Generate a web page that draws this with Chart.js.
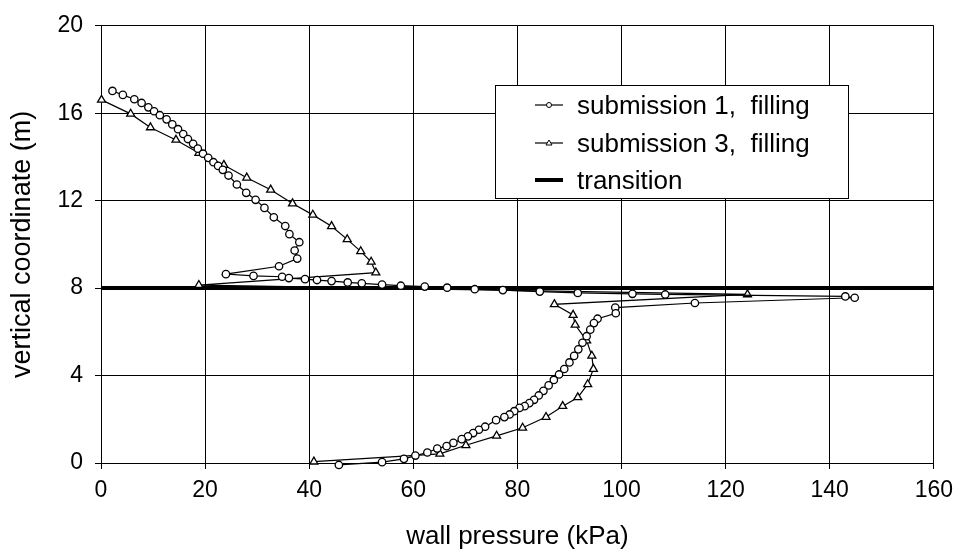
<!DOCTYPE html>
<html>
<head>
<meta charset="utf-8">
<script src="https://cdn.jsdelivr.net/npm/chart.js@4.4.1/dist/chart.umd.min.js"></script>
<style>
  html, body { margin: 0; padding: 0; background: #fff; }
  #wrap { width: 961px; height: 557px; }
</style>
</head>
<body>
<div id="wrap"><canvas id="c" width="961" height="557"></canvas></div>
<script>
// ---- data ----
const sub1X = [2.2,4.2,6.4,7.8,9.1,10.2,11.3,12.6,13.7,14.8,15.8,16.7,17.7,18.6,19.6,20.6,21.6,22.5,23.4,24.5,26.1,27.9,29.7,31.4,33.2,35.4,36.2,38.1,37.2,37.7,34.2,24.0,29.3,34.8,36.1,39.2,41.5,44.3,47.4,50.1,54.0,57.6,62.2,66.5,71.8,77.2,84.3,91.6,102.1,108.4,143.0,144.8,114.1,98.8,98.9,95.4,94.7,94.0,93.3,92.5,91.7,90.9,90.0,89.0,88.0,87.0,86.0,85.0,84.1,83.2,82.3,81.4,80.4,79.4,78.5,77.5,75.9,73.8,72.6,71.5,70.5,69.3,67.7,66.4,64.6,62.7,60.4,58.2,54.0,45.7];
const sub1Y = [17.02,16.84,16.64,16.47,16.27,16.09,15.91,15.72,15.49,15.27,15.05,14.82,14.6,14.38,14.15,13.96,13.76,13.59,13.41,13.15,12.74,12.36,12.04,11.67,11.24,10.84,10.47,10.1,9.72,9.35,9.0,8.64,8.56,8.52,8.46,8.41,8.37,8.32,8.26,8.22,8.16,8.11,8.07,8.02,7.95,7.91,7.84,7.78,7.74,7.71,7.62,7.56,7.32,7.11,6.85,6.6,6.4,6.1,5.8,5.5,5.2,4.9,4.6,4.3,4.05,3.8,3.55,3.3,3.09,2.89,2.74,2.6,2.52,2.37,2.22,2.1,1.96,1.66,1.52,1.37,1.22,1.09,0.92,0.77,0.66,0.48,0.34,0.19,0.04,-0.09];

const sub3X = [0.1,5.7,9.5,14.4,18.8,23.6,28.0,32.6,36.8,40.7,44.3,47.3,49.9,51.9,52.8,18.8,124.2,87.1,90.7,91.1,93.3,94.3,94.6,93.5,91.6,88.7,85.5,81.0,76.0,70.1,65.1,40.9];
const sub3Y = [16.61,15.97,15.35,14.78,14.18,13.63,13.05,12.5,11.87,11.35,10.83,10.23,9.68,9.2,8.71,8.14,7.71,7.26,6.77,6.32,5.6,4.9,4.3,3.6,3.0,2.6,2.1,1.61,1.24,0.81,0.42,0.06];

const transitionX = [0, 160];
const transitionY = [8, 8];

const xTicks = [0,20,40,60,80,100,120,140,160];
const yTicks = [0,4,8,12,16,20];

const seriesLabels = ['submission 1,  filling', 'submission 3,  filling', 'transition'];
const xTitle = 'wall pressure (kPa)';
const yTitle = 'vertical coordinate (m)';

// ---- build ----
const FONT = '"Liberation Sans", Arial, Helvetica, sans-serif';
const pts = (xs, ys) => xs.map((x, i) => ({x: x, y: ys[i]}));

const legendPlugin = {
  id: 'boxLegend',
  afterDraw(chart) {
    const ctx = chart.ctx;
    const bx = 495, by = 85, bw = 353, bh = 113;
    ctx.save();
    ctx.fillStyle = '#fff';
    ctx.fillRect(bx, by, bw, bh);
    ctx.strokeStyle = '#000';
    ctx.lineWidth = 1;
    ctx.strokeRect(bx + 0.5, by + 0.5, bw, bh);
    const rows = [105, 143, 180];
    const base = [114, 152, 189];
    chart.data.datasets.forEach((ds, i) => {
      const y = rows[i];
      ctx.strokeStyle = '#000';
      ctx.lineWidth = i === 2 ? 4 : 1.2;
      ctx.beginPath();
      ctx.moveTo(535, y);
      ctx.lineTo(563, y);
      ctx.stroke();
      ctx.lineWidth = 1;
      ctx.fillStyle = '#fff';
      if (i === 0) {
        ctx.beginPath();
        ctx.arc(549, y, 2.5, 0, Math.PI * 2);
        ctx.fill(); ctx.stroke();
      } else if (i === 1) {
        ctx.beginPath();
        ctx.moveTo(549, y - 3);
        ctx.lineTo(552, y + 2);
        ctx.lineTo(546, y + 2);
        ctx.closePath();
        ctx.fill(); ctx.stroke();
      }
      ctx.fillStyle = '#000';
      ctx.font = '26px ' + FONT;
      ctx.textBaseline = 'alphabetic';
      ctx.textAlign = 'left';
      ctx.fillText(ds.label, 577, base[i]);
    });
    ctx.restore();
  }
};

new Chart(document.getElementById('c'), {
  type: 'scatter',
  data: {
    datasets: [
      {
        label: seriesLabels[0],
        data: pts(sub1X, sub1Y),
        showLine: true,
        clip: false,
        borderColor: '#000',
        borderWidth: 1.2,
        pointStyle: 'circle',
        pointRadius: 3.7,
        pointBorderWidth: 1.3,
        pointBackgroundColor: '#fff',
        pointBorderColor: '#000',
        tension: 0
      },
      {
        label: seriesLabels[1],
        data: pts(sub3X, sub3Y),
        showLine: true,
        clip: false,
        borderColor: '#000',
        borderWidth: 1.2,
        pointStyle: 'triangle',
        pointRadius: 4.6,
        pointBorderWidth: 1.3,
        pointBackgroundColor: '#fff',
        pointBorderColor: '#000',
        tension: 0
      },
      {
        label: seriesLabels[2],
        data: pts(transitionX, transitionY),
        showLine: true,
        clip: false,
        borderColor: '#000',
        borderWidth: 4,
        pointRadius: 0,
        tension: 0
      }
    ]
  },
  options: {
    responsive: false,
    animation: false,
    devicePixelRatio: 1,
    layout: { padding: { left: 0, top: 16, right: 25, bottom: 0 } },
    plugins: {
      legend: { display: false },
      tooltip: { enabled: false }
    },
    scales: {
      x: {
        type: 'linear',
        min: 0, max: 160,
        afterBuildTicks: s => { s.ticks = xTicks.map(v => ({value: v})); },
        afterFit: s => { s.height = 94; },
        ticks: { color: '#000', font: { size: 23, family: FONT }, padding: 8, maxRotation: 0 },
        grid: { color: '#000', lineWidth: 1, tickLength: 6, drawTicks: true },
        border: { color: '#000', width: 1 },
        title: { display: true, text: xTitle, color: '#000', font: { size: 26, family: FONT }, padding: { top: 0, bottom: 5 } }
      },
      y: {
        type: 'linear',
        min: 0, max: 20,
        afterBuildTicks: s => { s.ticks = yTicks.map(v => ({value: v})); },
        afterFit: s => { s.width = 101; },
        ticks: { color: '#000', font: { size: 23, family: FONT }, padding: 12 },
        grid: { color: '#000', lineWidth: 1, tickLength: 6, drawTicks: true },
        border: { color: '#000', width: 1 },
        title: { display: true, text: yTitle, color: '#000', font: { size: 27, family: FONT }, padding: { top: 6, bottom: 0 } }
      }
    }
  },
  plugins: [legendPlugin]
});
</script>
</body>
</html>
